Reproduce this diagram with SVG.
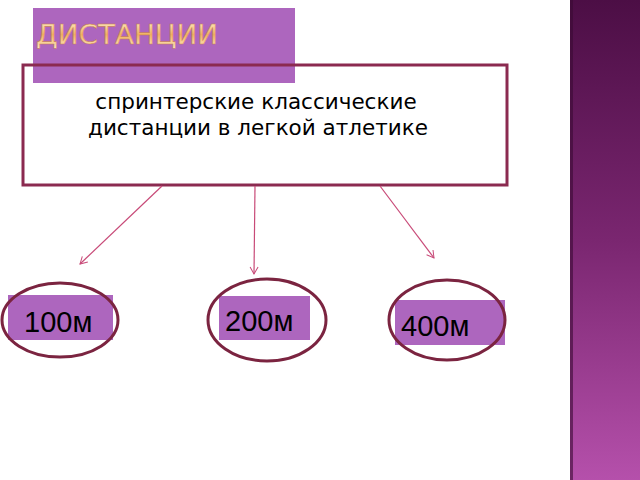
<svg xmlns="http://www.w3.org/2000/svg" width="640" height="480" viewBox="0 0 640 480">
<defs>
<linearGradient id="strip" x1="0" y1="0" x2="0" y2="1">
<stop offset="0" stop-color="#4c0e45"/><stop offset="0.5" stop-color="#7a2670"/><stop offset="1" stop-color="#b550ab"/>
</linearGradient>
<linearGradient id="gold" x1="0" y1="0" x2="0" y2="1">
<stop offset="0" stop-color="#fff4d8"/><stop offset="0.5" stop-color="#f0b060"/><stop offset="1" stop-color="#fff0d0"/>
</linearGradient>
<marker id="ah" markerWidth="10" markerHeight="10" refX="8" refY="5" orient="auto" markerUnits="userSpaceOnUse">
<path d="M1,1 L8,5 L1,9" fill="none" stroke="#c84a78" stroke-width="1"/>
</marker>
<style>
.lbl{fill:#ad66be}
.ring{fill:none;stroke:#7b2440;stroke-width:3}
.num{font-family:"Liberation Sans",Arial,sans-serif;font-size:29px;fill:#000}
.conn{stroke:#c84a78;stroke-width:1.2;fill:none;marker-end:url(#ah)}
.body{font-family:'DejaVu Sans',sans-serif;font-size:21.5px;fill:#000}
</style>
</defs>
<rect width="640" height="480" fill="#fff"/>
<rect x="570" y="0" width="70" height="480" fill="url(#strip)"/>
<rect x="570" y="0" width="3" height="480" fill="#3a0a33" opacity="0.6"/>
<g id="title">
<rect x="33" y="8" width="262" height="75" fill="#ad66be"/>
<text x="36" y="44" font-family="'DejaVu Sans',sans-serif" font-size="27" textLength="182" lengthAdjust="spacingAndGlyphs" fill="url(#gold)" stroke="#c88040" stroke-width="0.4">ДИСТАНЦИИ</text>
</g>
<g id="main">
<rect x="23" y="65" width="484" height="120" fill="none" stroke="#8b2a50" stroke-width="3"/>
<text class="body" x="256" y="109" text-anchor="middle">спринтерские классические</text>
<text class="body" x="258" y="135" text-anchor="middle">дистанции в легкой атлетике</text>
</g>
<g id="connectors">
<line class="conn" x1="162" y1="186" x2="80" y2="264"/>
<line class="conn" x1="255" y1="186" x2="254" y2="274"/>
<line class="conn" x1="380" y1="186" x2="434" y2="258"/>
</g>
<g id="n100">
<rect class="lbl" x="8" y="295" width="105" height="45"/>
<ellipse class="ring" cx="60" cy="320" rx="58" ry="37"/>
<text class="num" x="24" y="332">100м</text>
</g>
<g id="n200">
<rect class="lbl" x="219" y="296" width="91" height="44"/>
<ellipse class="ring" cx="267" cy="320" rx="59" ry="41"/>
<text class="num" x="225" y="331">200м</text>
</g>
<g id="n400">
<rect class="lbl" x="395" y="300" width="110" height="45"/>
<ellipse class="ring" cx="447" cy="320" rx="58" ry="40"/>
<text class="num" x="401" y="336">400м</text>
</g>
</svg>
